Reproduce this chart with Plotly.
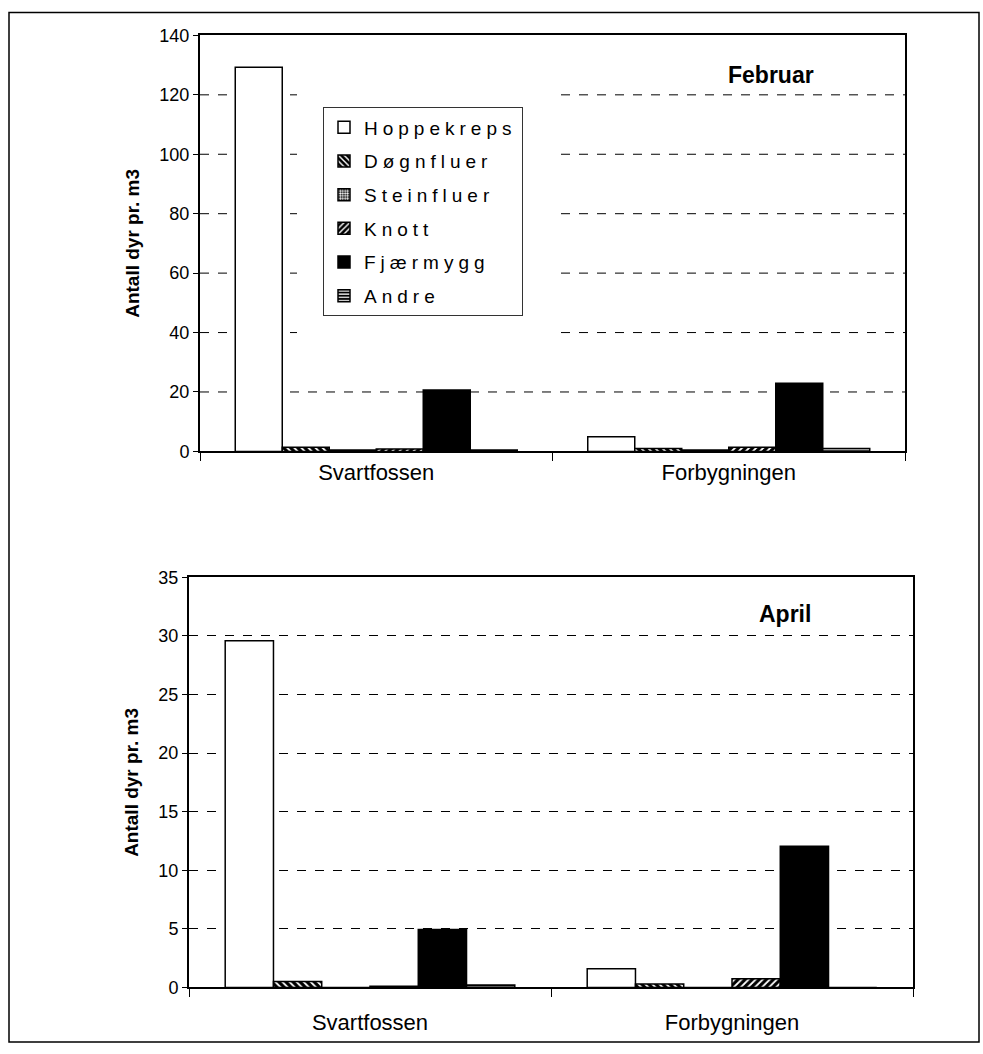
import plotly.graph_objects as go

# Sampling sites (x categories)
sites = ["Svartfossen", "Forbygningen"]

# Taxa, in legend order
taxa = ["Hoppekreps", "Døgnfluer", "Steinfluer", "Knott", "Fjærmygg", "Andre"]

# Animals per m3, February
feb_hoppekreps = [129.3, 4.9]
feb_dognfluer = [1.4, 1.0]
feb_steinfluer = [0.45, 0.45]
feb_knott = [0.8, 1.4]
feb_fjaermygg = [20.7, 22.9]
feb_andre = [0.45, 1.0]

# Animals per m3, April
apr_hoppekreps = [29.6, 1.6]
apr_dognfluer = [0.5, 0.3]
apr_steinfluer = [0.0, 0.0]
apr_knott = [0.1, 0.75]
apr_fjaermygg = [4.95, 12.05]
apr_andre = [0.2, 0.0]

feb_values = [feb_hoppekreps, feb_dognfluer, feb_steinfluer, feb_knott, feb_fjaermygg, feb_andre]
apr_values = [apr_hoppekreps, apr_dognfluer, apr_steinfluer, apr_knott, apr_fjaermygg, apr_andre]

# Y tick values of the February panel (gridlines drawn at these)
feb_grid_values = [20, 40, 60, 80, 100, 120]

# Fill style per taxon
styles = {
    "Hoppekreps": dict(color="white"),
    "Døgnfluer": dict(color="black", pattern=dict(shape="\\", fgcolor="white", bgcolor="black",
                                                  size=5, solidity=0.35, fillmode="replace")),
    "Steinfluer": dict(color="black", pattern=dict(shape=".", fgcolor="white", bgcolor="black",
                                                   size=3, solidity=0.5, fillmode="replace")),
    "Knott": dict(color="black", pattern=dict(shape="/", fgcolor="white", bgcolor="black",
                                              size=5, solidity=0.35, fillmode="replace")),
    "Fjærmygg": dict(color="black"),
    "Andre": dict(color="black", pattern=dict(shape="-", fgcolor="white", bgcolor="black",
                                              size=4, solidity=0.4, fillmode="replace")),
}

FONT = "Liberation Sans, Arial, sans-serif"
W, H = 983, 1054

# Page placement of the figure: vertical offset and scale of the drawn page
PAGE_TOP, PAGE_SCALE = 9.6, 0.981

fig = go.Figure()

for name, vals in zip(taxa, feb_values):
    fig.add_trace(go.Bar(
        x=sites, y=vals, xaxis="x", yaxis="y",
        name='<span style="letter-spacing:5px">' + name + "</span>",
        legendgroup=name, showlegend=True,
        marker=dict(line=dict(color="black", width=1.5), **styles[name]),
    ))

for name, vals in zip(taxa, apr_values):
    fig.add_trace(go.Bar(
        x=sites, y=vals, xaxis="x2", yaxis="y2",
        name=name, legendgroup=name, showlegend=False,
        marker=dict(line=dict(color="black", width=1.5), **styles[name]),
    ))


def px_x(p):
    return p / W


def px_y(p):
    return 1 - ((p - PAGE_TOP) / PAGE_SCALE) / H


yaxis_common = dict(
    showline=True, linecolor="black", linewidth=2, mirror=True,
    ticks="outside", ticklen=5, tickcolor="black", tickwidth=1,
    gridcolor="black", gridwidth=1, griddash="dash",
    zeroline=False,
    tickfont=dict(family=FONT, size=18, color="black"),
    title=dict(text="<b>Antall dyr pr. m3</b>", standoff=15,
               font=dict(family=FONT, size=19, color="black")),
)
xaxis_common = dict(
    type="category",
    showline=True, linecolor="black", linewidth=2, mirror=True,
    ticks="outside", ticklen=8, tickcolor="black", tickwidth=1,
    tickson="boundaries", showgrid=False, zeroline=False,
    tickfont=dict(family=FONT, size=22, color="black"),
)

TOP_L, TOP_R, TOP_T, TOP_B = 200, 905, 35, 451
BOT_L, BOT_R, BOT_T, BOT_B = 189, 913, 577, 987

# February gridlines: the area around the legend is left blank
gap_x0 = (297 - TOP_L) / (TOP_R - TOP_L)
gap_x1 = (561 - TOP_L) / (TOP_R - TOP_L)
grid_shapes = []
for v in feb_grid_values:
    spans = [(0, 1)] if v < 30 else [(0, gap_x0), (gap_x1, 1)]
    for a, b in spans:
        grid_shapes.append(dict(
            type="line", xref="x domain", yref="y", x0=a, x1=b, y0=v, y1=v,
            line=dict(color="black", width=1, dash="dash"), layer="below",
        ))

fig.update_layout(
    width=W, height=H,
    margin=dict(l=0, r=0, t=0, b=0),
    paper_bgcolor="white", plot_bgcolor="white",
    barmode="group", bargap=0.2, bargroupgap=0,
    showlegend=True,
    xaxis=dict(domain=[px_x(TOP_L), px_x(TOP_R)], anchor="y", **xaxis_common),
    yaxis=dict(domain=[px_y(TOP_B), px_y(TOP_T)], anchor="x", range=[0, 140], dtick=20,
               showgrid=False, **yaxis_common),
    xaxis2=dict(domain=[px_x(BOT_L), px_x(BOT_R)], anchor="y2", ticklabelstandoff=14, **xaxis_common),
    yaxis2=dict(domain=[px_y(BOT_B), px_y(BOT_T)], anchor="x2", range=[0, 35], dtick=5,
                showgrid=True, **yaxis_common),
    legend=dict(
        x=px_x(323), y=px_y(107), xanchor="left", yanchor="top",
        bgcolor="white", bordercolor="#333333", borderwidth=1,
        font=dict(family=FONT, size=19, color="black"),
        tracegroupgap=6, traceorder="grouped",
    ),
    annotations=[
        dict(text="<b>Februar</b>", x=0.81, y=0.904, xref="x domain", yref="y domain",
             showarrow=False, xanchor="center", yanchor="middle",
             font=dict(family=FONT, size=23, color="black")),
        dict(text="<b>April</b>", x=0.823, y=0.91, xref="x2 domain", yref="y2 domain",
             showarrow=False, xanchor="center", yanchor="middle",
             font=dict(family=FONT, size=23, color="black")),
    ],
    shapes=[
        # outer frame
        dict(type="rect", xref="paper", yref="paper",
             x0=px_x(9), x1=px_x(979), y0=max(px_y(1046), 0.002), y1=px_y(12),
             line=dict(color="black", width=1.5), fillcolor="rgba(0,0,0,0)", layer="above"),
    ] + grid_shapes,
)

fig.write_html("out.html")
